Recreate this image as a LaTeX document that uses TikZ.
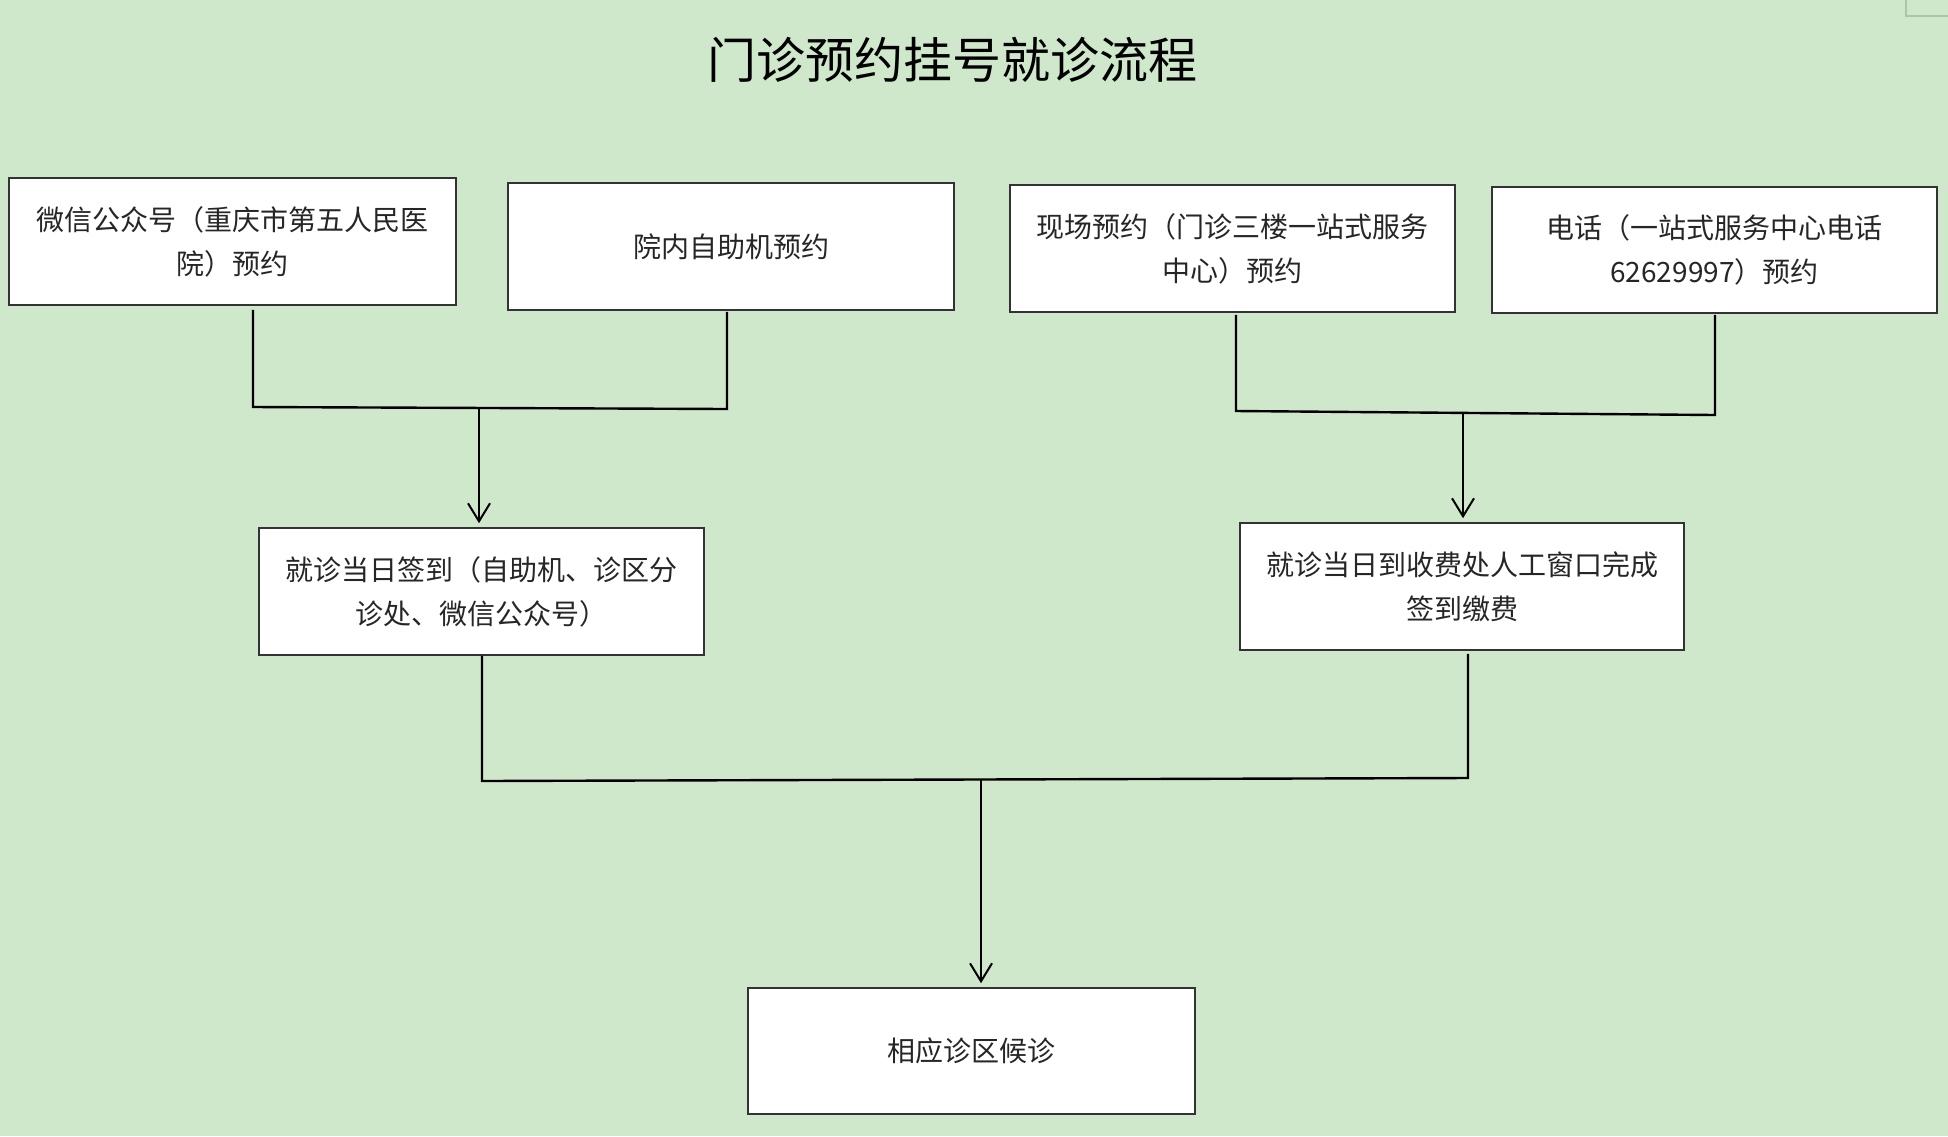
\documentclass[tikz,border=0pt]{standalone}
\usepackage{fontspec}
\setmainfont{Noto Sans CJK SC}
\usetikzlibrary{arrows.meta}
\definecolor{bggreen}{RGB}{207,231,202}
\definecolor{cellgray}{RGB}{172,196,167}
\begin{document}
\begin{tikzpicture}[x=1pt,y=-1pt,
  box/.style={draw=black!80, line width=1.6pt, fill=white, align=center,
    inner sep=0pt, font=\fontsize{28}{44}\selectfont, text=black!85},
  conn/.style={line width=2.4pt, draw=black},
  arr/.style={conn, -{Straight Barb[length=18pt,width=22pt,line width=2pt]}, shorten >=4pt}]
\fill[bggreen] (0,0) rectangle (1948,1136);
\useasboundingbox (0,0) rectangle (1948,1136);
% cell border fragment at top right
\draw[cellgray, line width=2.5pt] (1906,0) -- (1906,16) -- (1948,16);

\node[font=\fontsize{49}{56}\selectfont, text=black] (title) at (952,60) {门诊预约挂号就诊流程};

\node[box, minimum width=447pt, minimum height=127pt] (b1) at (232.5,241.5) {微信公众号（重庆市第五人民医\\院）预约};
\node[box, minimum width=446pt, minimum height=127pt] (b2) at (731,246.5) {院内自助机预约};
\node[box, minimum width=445pt, minimum height=127pt] (b3) at (1232.5,248.5) {现场预约（门诊三楼一站式服务\\中心）预约};
\node[box, minimum width=445pt, minimum height=126pt] (b4) at (1714.5,250) {电话（一站式服务中心电话\\62629997）预约};
\node[box, minimum width=445pt, minimum height=127pt] (b5) at (481.5,591.5) {就诊当日签到（自助机、诊区分\\诊处、微信公众号）};
\node[box, minimum width=444pt, minimum height=127pt] (b6) at (1462,586.5) {就诊当日到收费处人工窗口完成\\签到缴费};
\node[box, minimum width=447pt, minimum height=126pt] (b7) at (971.5,1051) {相应诊区候诊};

% junction points
\coordinate (l1) at (253,407);
\coordinate (l2) at (727,409);
\coordinate (lm) at (479,408);
\coordinate (r1) at (1236,411);
\coordinate (r2) at (1715,415);
\coordinate (rm) at (1463,413);
\coordinate (m1) at (482,781);
\coordinate (m2) at (1468,778);
\coordinate (mm) at (981,780);

\draw[conn] ([yshift=-4pt]b1.south -| l1) -- (l1) -- (l2) -- ([yshift=-1pt]b2.south -| l2);
\draw[arr] (lm) -- (lm |- b5.north);
\draw[conn] ([yshift=-2pt]b3.south -| r1) -- (r1) -- (r2) -- ([yshift=-1pt]b4.south -| r2);
\draw[arr] (rm) -- (rm |- b6.north);
\draw[conn] (b5.south -| m1) -- (m1) -- (m2) -- ([yshift=-3pt]b6.south -| m2);
\draw[arr] (mm) -- (mm |- b7.north);
\end{tikzpicture}
\end{document}
